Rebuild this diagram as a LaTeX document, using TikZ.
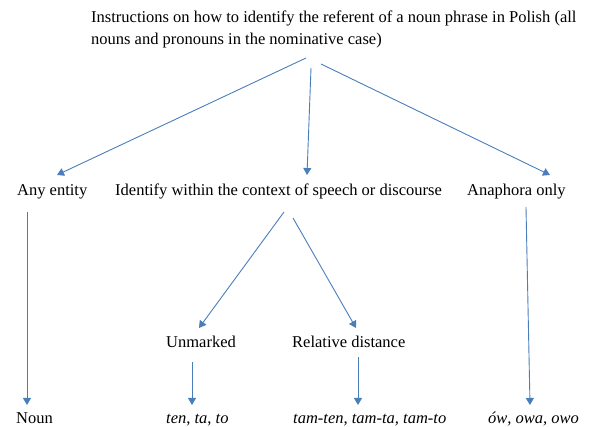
\documentclass[tikz,border=0pt]{standalone}
\usepackage{fontspec}
\setmainfont{Liberation Serif}[Kerning=Off]
\usetikzlibrary{arrows.meta}
\definecolor{arr}{HTML}{4A7EBB}
\begin{document}
\begin{tikzpicture}[x=1pt,y=-1pt,
  lab/.style={anchor=base west,inner sep=0pt,font=\fontsize{16.5}{19}\selectfont},
  conn/.style={draw=arr,line width=0.9pt,-{Triangle[width=8pt,length=7pt]}}]
\useasboundingbox (0,0) rectangle (590,427);
\node[lab] (t1) at (91,23) {Instructions on how to identify the referent of a noun phrase in Polish (all};
\node[lab] (t2) at (91,45) {nouns and pronouns in the nominative case)};
\node[lab] (any) at (17,196) {Any entity};
\node[lab] (ident) at (115,196) {Identify within the context of speech or discourse};
\node[lab] (ana) at (467,196) {Anaphora only};
\node[lab] (unm) at (166,348) {Unmarked};
\node[lab] (rel) at (292,348) {Relative distance};
\node[lab] (noun) at (16,424) {Noun};
\node[lab] (ten) at (166,424) {\itshape ten\upshape, \itshape ta\upshape, \itshape to};
\node[lab] (tam) at (293,424) {\itshape tam-ten, tam-ta, tam-to};
\node[lab] (ow) at (488,424) {\itshape ów, owa, owo};
% connector end points
\coordinate (s1) at (306,58);
\coordinate (s2) at (311,68);
\coordinate (s3) at (321,64);
\coordinate (e1) at (57,175);
\coordinate (e2) at (307,175);
\coordinate (e3) at (550,175);
\coordinate (sa) at (27,212);
\coordinate (ea) at (27,405);
\coordinate (sb) at (526,207);
\coordinate (eb) at (530,405);
\coordinate (sc) at (284,212);
\coordinate (ec) at (199,328);
\coordinate (sd) at (293,218);
\coordinate (ed) at (356,328);
\coordinate (se) at (192,362);
\coordinate (ee) at (192,405);
\coordinate (sf) at (358,357);
\coordinate (ef) at (358,405);
\draw[conn] (s1) -- (e1);
\draw[conn] (s2) -- (e2);
\draw[conn] (s3) -- (e3);
\draw[conn] (sa) -- (ea);
\draw[conn] (sb) -- (eb);
\draw[conn] (sc) -- (ec);
\draw[conn] (sd) -- (ed);
\draw[conn] (se) -- (ee);
\draw[conn] (sf) -- (ef);
\end{tikzpicture}
\end{document}
